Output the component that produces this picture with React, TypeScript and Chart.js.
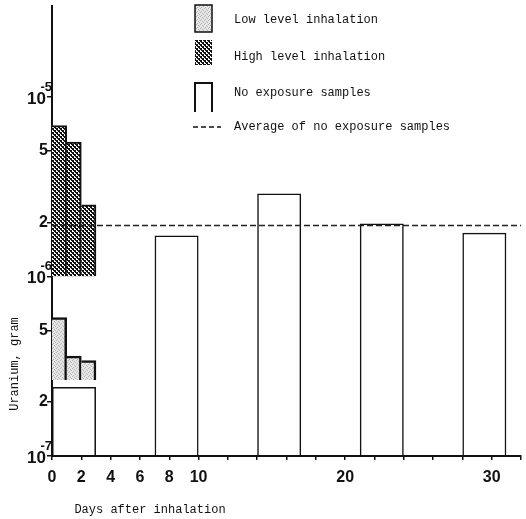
import React, { useEffect, useRef } from 'react';
import { Chart, registerables } from 'chart.js';

Chart.register(...registerables);

// ---------- data ----------
const xTickLabels = [0, 2, 4, 6, 8, 10, 20, 30];
const yTickValues = [1e-7, 2e-7, 5e-7, 1e-6, 2e-6, 5e-6, 1e-5];
const yTickMantissa = ['10', '2', '5', '10', '2', '5', '10'];
const yTickExponent = ['-7', '', '', '-6', '', '', '-5'];

const inhalationDays: [number, number][] = [[0, 1], [1, 2], [2, 3]];
const lowLevel = [5.9e-7, 3.6e-7, 3.4e-7];
const lowLevelBase = 2.65e-7;
const highLevel = [6.9e-6, 5.6e-6, 2.5e-6];
const highLevelBase = 1e-6;
const noExposureDays: [number, number][] = [[0, 3], [7, 10], [14, 17], [21, 24], [28, 31]];
const noExposure = [2.42e-7, 1.69e-6, 2.89e-6, 1.97e-6, 1.75e-6];
const noExposureAverage = 1.92e-6;

const legendLabels = [
  'Low level inhalation',
  'High level inhalation',
  'No exposure samples',
  'Average of no exposure samples',
];
const xTitle = 'Days after inhalation';
const yTitle = 'Uranium, gram';

// ---------- patterns ----------
function makeHighPattern(ctx: CanvasRenderingContext2D) {
  const c = document.createElement('canvas');
  c.width = 4; c.height = 4;
  const g = c.getContext('2d')!;
  g.fillStyle = '#fff';
  g.fillRect(0, 0, 4, 4);
  g.fillStyle = '#111';
  g.fillRect(0, 0, 2, 2);
  g.fillRect(2, 2, 2, 2);
  g.fillRect(1, 2, 1, 1);
  g.fillRect(3, 0, 1, 1);
  return ctx.createPattern(c, 'repeat')!;
}
function makeLowPattern(ctx: CanvasRenderingContext2D) {
  const c = document.createElement('canvas');
  c.width = 4; c.height = 4;
  const g = c.getContext('2d')!;
  g.fillStyle = '#e6e6e6';
  g.fillRect(0, 0, 4, 4);
  g.fillStyle = '#b4b4b4';
  g.fillRect(0, 0, 1, 1);
  g.fillRect(2, 1, 1, 1);
  g.fillRect(1, 3, 1, 1);
  g.fillRect(3, 2, 1, 1);
  return ctx.createPattern(c, 'repeat')!;
}

const mid = (d: [number, number]) => (d[0] + d[1]) / 2;

export default function App() {
  const ref = useRef<HTMLCanvasElement>(null);

  useEffect(() => {
    document.body.style.margin = '0';
    const canvas = ref.current!;
    const ctx = canvas.getContext('2d')!;
    const highPat = makeHighPattern(ctx);
    const lowPat = makeLowPattern(ctx);

    const decor = {
      id: 'decor',
      afterDraw(chart: any) {
        const c = chart.ctx as CanvasRenderingContext2D;
        const y = chart.scales.y;
        const x = chart.scales.x;
        c.save();
        c.fillStyle = '#111';
        // y tick labels
        yTickValues.forEach((v, i) => {
          const py = y.getPixelForValue(v);
          if (yTickExponent[i]) {
            c.font = 'bold 17px "Liberation Sans", Arial, sans-serif';
            c.textAlign = 'right';
            c.textBaseline = 'alphabetic';
            c.fillText(yTickMantissa[i], 46, py + 7);
            c.font = 'bold 13px "Liberation Sans", Arial, sans-serif';
            c.fillText(yTickExponent[i], 52, py - 6);
          } else {
            c.font = 'bold 16px "Liberation Sans", Arial, sans-serif';
            c.textAlign = 'right';
            c.textBaseline = 'middle';
            c.fillText(yTickMantissa[i], 48, py);
          }
        });
        // x tick labels
        c.font = 'bold 16px "Liberation Sans", Arial, sans-serif';
        c.textAlign = 'center';
        c.textBaseline = 'middle';
        xTickLabels.forEach((v) => {
          c.fillText(String(v), x.getPixelForValue(v), 478);
        });
        // axis titles
        c.font = '12px "Liberation Mono", "DejaVu Sans Mono", monospace';
        c.textAlign = 'center';
        c.textBaseline = 'middle';
        c.fillText(xTitle, 150, 510);
        c.save();
        c.translate(15, 364);
        c.rotate(-Math.PI / 2);
        c.fillText(yTitle, 0, 0);
        c.restore();
        // legend
        const ix = 195, iw = 17;
        c.lineWidth = 1.5;
        c.strokeStyle = '#111';
        c.fillStyle = lowPat;
        c.fillRect(ix, 5, iw, 27);
        c.strokeRect(ix, 5, iw, 27);
        c.fillStyle = highPat;
        c.fillRect(ix, 40, iw, 25);
        c.beginPath();
        c.lineWidth = 2;
        c.moveTo(ix, 112);
        c.lineTo(ix, 83);
        c.lineTo(ix + iw, 83);
        c.lineTo(ix + iw, 112);
        c.stroke();
        c.beginPath();
        c.lineWidth = 1.5;
        c.setLineDash([5, 3]);
        c.moveTo(193, 127);
        c.lineTo(221, 127);
        c.stroke();
        c.setLineDash([]);
        c.fillStyle = '#111';
        c.font = '12px "Liberation Mono", "DejaVu Sans Mono", monospace';
        c.textAlign = 'left';
        c.textBaseline = 'middle';
        const ly = [20, 57, 93, 127];
        legendLabels.forEach((t, i) => c.fillText(t, 234, ly[i]));
        c.restore();
      },
    };

    const chart = new Chart(ctx, {
      type: 'bar',
      data: {
        datasets: [
          {
            type: 'line',
            label: legendLabels[3],
            data: [{ x: 0, y: noExposureAverage }, { x: 32, y: noExposureAverage }],
            borderColor: '#222',
            borderWidth: 1.3,
            borderDash: [6, 3],
            pointRadius: 0,
            fill: false,
          } as any,
          {
            label: legendLabels[1],
            data: inhalationDays.map((d, i) => ({ x: mid(d), y: [highLevelBase, highLevel[i]] })),
            backgroundColor: highPat,
            borderColor: '#111',
            borderWidth: { top: 2, right: 2, left: 0, bottom: 0 },
            borderSkipped: false,
            grouped: false,
            barPercentage: 1,
            categoryPercentage: 1,
          } as any,
          {
            label: legendLabels[0],
            data: inhalationDays.map((d, i) => ({ x: mid(d), y: [lowLevelBase, lowLevel[i]] })),
            backgroundColor: lowPat,
            borderColor: '#111',
            borderWidth: { top: 2.5, right: 2.5, left: 0, bottom: 0 },
            borderSkipped: false,
            grouped: false,
            barPercentage: 1,
            categoryPercentage: 1,
          } as any,
          {
            label: legendLabels[2],
            data: noExposureDays.map((d, i) => ({ x: mid(d), y: [1e-7, noExposure[i]] })),
            backgroundColor: 'rgba(255,255,255,0)',
            borderColor: '#111',
            borderWidth: { top: 1.5, right: 1.5, left: 1.5, bottom: 0 },
            borderSkipped: false,
            grouped: false,
            barPercentage: 3,
            categoryPercentage: 1,
          } as any,
        ],
      },
      options: {
        responsive: false,
        animation: false,
        layout: { padding: { left: 52, top: 6, right: 5, bottom: 63 } },
        plugins: { legend: { display: false }, tooltip: { enabled: false } },
        scales: {
          x: {
            type: 'linear',
            min: 0,
            max: 32,
            offset: false,
            afterFit: (s: any) => { s.height = 0; },
            grid: { display: true, drawOnChartArea: false, drawTicks: true, tickLength: 4, color: '#111', lineWidth: 1.5, offset: false },
            border: { display: true, color: '#111', width: 2 },
            ticks: { stepSize: 2, autoSkip: false, display: false },
          },
          y: {
            type: 'logarithmic',
            min: 1e-7,
            max: 3.2e-5,
            afterFit: (s: any) => { s.width = 0; },
            afterBuildTicks: (s: any) => { s.ticks = yTickValues.map((v) => ({ value: v })); },
            grid: { display: true, drawOnChartArea: false, drawTicks: true, tickLength: 5, color: '#111', lineWidth: 1.5 },
            border: { display: true, color: '#111', width: 2 },
            ticks: { display: false },
          },
        } as any,
      },
      plugins: [decor],
    });
    return () => chart.destroy();
  }, []);

  return <canvas ref={ref} width={526} height={519} style={{ display: 'block' }} />;
}
